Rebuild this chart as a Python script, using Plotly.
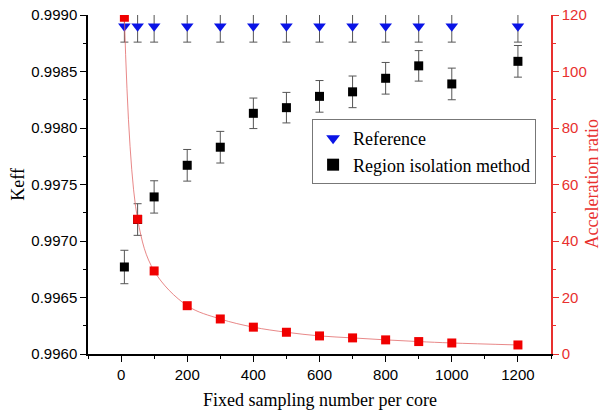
import plotly.graph_objects as go

x_vals = [10, 50, 100, 200, 300, 400, 500, 600, 700, 800, 900, 1000, 1200]
reference_keff = [0.99890] * 13
reference_err = [0.00014] * 13
region_keff = [0.99677, 0.99719, 0.99739, 0.99767, 0.99783, 0.99813, 0.99818,
               0.99828, 0.99832, 0.99844, 0.99855, 0.99839, 0.99859]
region_err = [0.000148, 0.00014, 0.000143, 0.00014, 0.00014, 0.000135, 0.000135,
              0.00014, 0.00014, 0.00014, 0.000135, 0.00014, 0.00014]
accel_ratio = [119.2, 47.7, 29.4, 17.1, 12.4, 9.5, 7.7, 6.4, 5.7, 5.0, 4.4, 3.9, 3.2]

RED = "#e8302e"
ERR = "#555555"
SERIF = "Liberation Serif"
SANS = "Liberation Sans"

fig = go.Figure()
fig.add_trace(go.Scatter(
    x=x_vals, y=reference_keff, mode="markers", name="Reference",
    marker=dict(symbol="triangle-down", color="#0a14e6", size=11),
    error_y=dict(type="data", array=reference_err, color=ERR, thickness=1, width=4),
))
fig.add_trace(go.Scatter(
    x=x_vals, y=region_keff, mode="markers", name="Region isolation method",
    marker=dict(symbol="square", color="black", size=9),
    error_y=dict(type="data", array=region_err, color=ERR, thickness=1, width=4),
))
fig.add_trace(go.Scatter(
    x=x_vals, y=accel_ratio, mode="lines+markers", yaxis="y2", showlegend=False,
    line=dict(color="#e26a6a", width=0.8, shape="spline"),
    marker=dict(symbol="square", color="#f00000", size=9),
))

fig.update_layout(
    width=603, height=412,
    margin=dict(l=88, r=52, t=15, b=58),
    paper_bgcolor="white", plot_bgcolor="white",
    showlegend=True,
    legend=dict(
        x=0.484, y=0.693, xanchor="left", yanchor="top",
        bordercolor="#777777", borderwidth=1, bgcolor="white",
        font=dict(family=SERIF, size=18, color="black"),
        tracegroupgap=0, itemsizing="constant",
    ),
    xaxis=dict(
        range=[-100, 1300], dtick=200, tick0=0, automargin=False,
        showline=True, linecolor="black", linewidth=1.5,
        ticks="outside", ticklen=6, tickcolor="black",
        minor=dict(dtick=100, ticks="outside", ticklen=3, tickcolor="black"),
        showgrid=False, zeroline=False,
        tickfont=dict(family=SANS, size=15, color="black"),
    ),
    yaxis=dict(
        range=[0.996, 0.999], dtick=0.0005, tick0=0.996, tickformat=".4f", automargin=False,
        showline=True, linecolor="black", linewidth=1.5,
        ticks="outside", ticklen=6, tickcolor="black",
        minor=dict(dtick=0.00025, ticks="outside", ticklen=3, tickcolor="black"),
        showgrid=False, zeroline=False,
        tickfont=dict(family=SANS, size=15, color="black"),
    ),
    yaxis2=dict(
        range=[0, 120], dtick=20, overlaying="y", side="right", automargin=False,
        showline=True, linecolor=RED, linewidth=1.5,
        ticks="outside", ticklen=6, tickcolor=RED,
        minor=dict(dtick=10, ticks="outside", ticklen=3, tickcolor=RED),
        showgrid=False, zeroline=False,
        tickfont=dict(family=SANS, size=15, color=RED),
    ),
    annotations=[
        dict(text="Fixed sampling number per core", xref="paper", yref="paper",
             x=0.5, y=-0.136, xanchor="center", yanchor="middle", showarrow=False,
             font=dict(family=SERIF, size=18, color="black")),
        dict(text="Keff", xref="paper", yref="paper", textangle=-90,
             x=-0.153, y=0.5, xanchor="center", yanchor="middle", showarrow=False,
             font=dict(family=SERIF, size=18, color="black")),
        dict(text="Acceleration ratio", xref="paper", yref="paper", textangle=-90,
             x=1.0864, y=0.5, xanchor="center", yanchor="middle", showarrow=False,
             font=dict(family=SERIF, size=18, color=RED)),
    ],
)

fig.write_html("out.html", config={"displayModeBar": False},
               post_script="document.body.style.margin='0';document.body.style.overflow='hidden';")
